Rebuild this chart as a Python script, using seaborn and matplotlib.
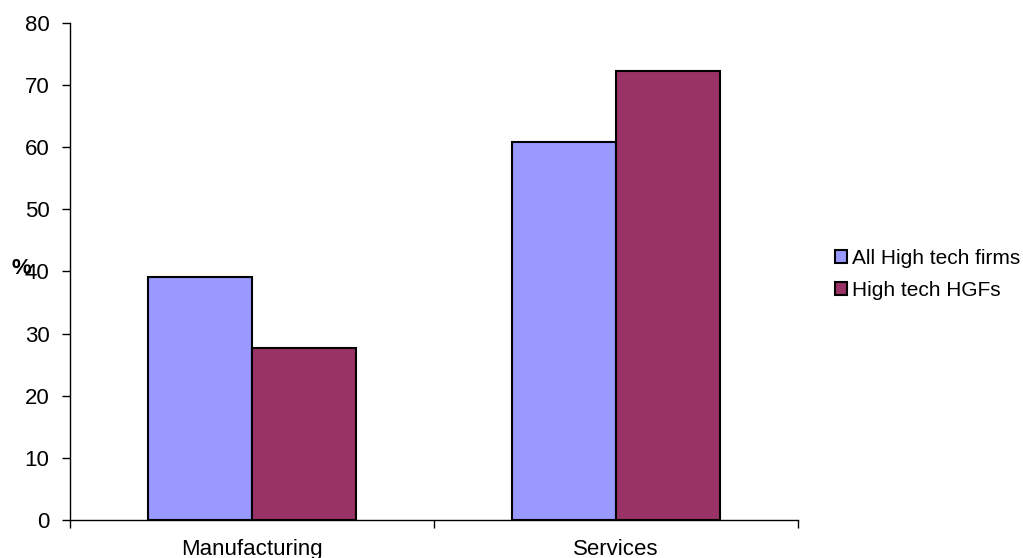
import pandas as pd
import seaborn as sns
import matplotlib.pyplot as plt
from matplotlib.patches import Patch

# data
sectors = ['Manufacturing', 'Services']
all_high_tech = [39.1, 60.9]
high_tech_hgfs = [27.7, 72.3]
series_names = ['All High tech firms', 'High tech HGFs']
colors = ['#9999FF', '#993366']

df = pd.DataFrame({
    'sector': sectors * 2,
    'value': all_high_tech + high_tech_hgfs,
    'series': [series_names[0]] * 2 + [series_names[1]] * 2,
})

sns.set_style('white')
plt.rcParams['font.family'] = ['Liberation Sans', 'DejaVu Sans']
plt.rcParams['text.color'] = 'black'
plt.rcParams['xtick.color'] = 'black'
plt.rcParams['ytick.color'] = 'black'

FS = 16

fig = plt.figure(figsize=(10.23, 5.58), dpi=100)
ax = fig.add_axes([0.0684, 0.0681, 0.7116, 0.8907])

sns.barplot(data=df, x='sector', y='value', hue='series', palette=colors,
            width=0.571, gap=0, edgecolor='black', linewidth=1.5,
            saturation=1, ax=ax, legend=False)

ax.set_xlim(-0.5, 1.5)
ax.set_ylim(0, 80)
ax.set_yticks(range(0, 81, 10))
ax.tick_params(axis='y', labelsize=FS, length=5.8, width=1, direction='out', left=True, pad=9)
ax.tick_params(axis='x', which='major', length=0, labelsize=FS, pad=14)
ax.set_xticks([-0.5, 0.5, 1.5], minor=True)
ax.tick_params(axis='x', which='minor', length=6, width=1, direction='out', bottom=True)
ax.set_xlabel('')
ax.set_ylabel('')
for s in ['top', 'right']:
    ax.spines[s].set_visible(False)
for s in ['left', 'bottom']:
    ax.spines[s].set_color('black')
    ax.spines[s].set_linewidth(1)

fig.text(0.0117, 0.518, '%', fontsize=FS, fontweight='bold', va='center', ha='left')

handles = [Patch(facecolor=c, edgecolor='black', linewidth=1.5) for c in colors]
fig.legend(handles, series_names, loc='center left', bbox_to_anchor=(0.816, 0.508),
           frameon=False, fontsize=15, handlelength=0.58, handleheight=0.58,
           handletextpad=0.25, labelspacing=0.65, borderpad=0, borderaxespad=0)

fig.savefig('out.png', dpi=100)
